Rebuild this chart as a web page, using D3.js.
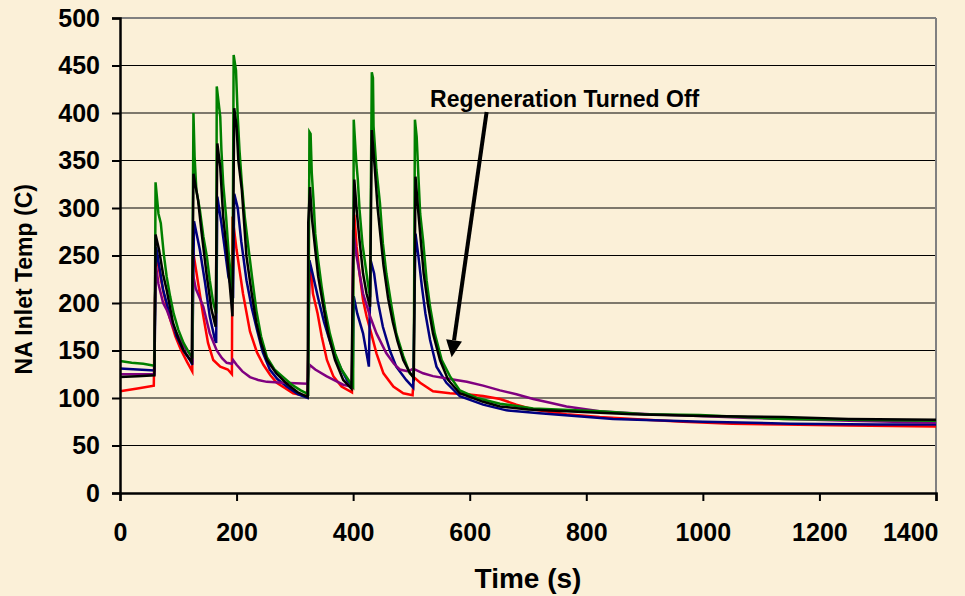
<!DOCTYPE html>
<html>
<head>
<meta charset="utf-8">
<script src="https://cdn.jsdelivr.net/npm/d3@7"></script>
<style>
html,body{margin:0;padding:0;background:#fbf0d8;}
svg{display:block;}
text{font-family:"Liberation Sans",Arial,sans-serif;font-weight:bold;fill:#000;}
</style>
</head>
<body>
<svg id="chart" width="965" height="596"></svg>
<script>
// ---- data ----
const xTicks = [0,200,400,600,800,1000,1200,1400];
const yTicks = [0,50,100,150,200,250,300,350,400,450,500];
const xTitle = "Time (s)";
const yTitle = "NA Inlet Temp (C)";
const noteText = "Regeneration Turned Off";
const notePos = [532, 406];
const arrowFrom = [629, 401];
const arrowTo = [569, 143];

const seriesNames = ["red","blue","purple","green","black"];

const red = [[0,107],[30,110],[58,113],[60,200],[62,252],[68,232],[75,210],[85,185],[95,165],[105,150],[115,138],[124,128],
[125,256],[134,221],[143,186],[151,158],[160,140],[172,133],[185,130],[192,125],
[193,291],[200,256],[211,210],[223,170],[235,148],[246,135],[258,124],[269,116],[297,105],[320,102],
[322,110],[325,235],[327,240],[331,210],[339,189],[346,165],[355,140],[366,123],[380,112],[398,106],
[400,250],[402,293],[406,259],[411,231],[417,203],[423,186],[431,168],[440,147],[452,126],[469,112],[486,105],[502,103],
[504,122],[515,116],[537,107],[566,105],[595,104],[623,102],[652,99],[680,93],[709,88],[766,83],[823,80],[880,78],[966,75],[1050,73],[1138,72],[1250,71],[1400,70]];

const blue = [[0,131],[30,130],[59,129],[62,259],[68,236],[74,214],[86,186],[97,165],[109,150],[120,140],[124,135],
[127,286],[137,256],[146,221],[154,186],[163,161],[165,158],
[167,312],[174,284],[180,256],[186,228],[192,214],[194,205],
[196,315],[202,300],[208,265],[217,224],[226,195],[235,172],[245,148],[257,130],[270,120],[286,112],[305,104],[322,100],
[325,245],[330,232],[340,205],[350,180],[360,160],[370,143],[380,130],[390,118],[399,112],
[401,207],[407,189],[417,168],[423,147],[427,133],
[430,245],[436,231],[442,203],[451,175],[463,150],[474,133],[491,119],[503,111],
[507,273],[512,249],[518,217],[524,189],[532,161],[543,133],[560,116],[583,102],[623,93],[663,87],[720,84],[846,78],[1000,75],[1150,73],[1300,72],[1400,72]];

const purple = [[0,125],[30,125],[59,125],[60,205],[62,238],[66,220],[74,200],[80,193],[91,175],[100,165],[109,155],[120,146],[124,142],
[125,231],[130,215],[137,205],[143,196],[154,168],[166,150],[175,142],[183,137],[192,136],[194,140],[200,135],[210,128],[223,122],[237,119],[252,117],[280,116],[322,115],
[325,135],[335,130],[354,123],[370,118],[383,114],[398,112],
[400,277],[406,249],[417,210],[429,186],[440,168],[457,147],[470,136],[480,130],[495,128],[503,131],
[520,126],[537,123],[566,120],[595,117],[623,113],[652,108],[680,104],[709,99],[738,95],[766,91],[823,86],[909,83],[995,81],[1081,79],[1252,76],[1400,74]];

const green = [[0,139],[20,137],[40,136],[59,134],[60,200],[61,327],[66,294],[70,284],[75,252],[80,228],[86,207],[92,189],[100,172],[109,158],[120,146],[124,144],
[125,300],[126,400],[128,354],[131,319],[137,298],[143,270],[149,249],[154,224],[160,200],[165,189],
[166,428],[172,396],[174,361],[177,326],[182,291],[186,256],[190,228],[193,200],
[195,461],[199,445],[202,396],[205,361],[209,326],[214,291],[220,260],[227,225],[234,192],[242,165],[252,143],[265,130],[280,122],[295,114],[310,108],[323,104],
[325,380],[327,378],[329,337],[332,308],[335,273],[340,245],[346,217],[352,193],[360,168],[369,147],[380,130],[392,119],[400,112],
[401,393],[405,352],[408,330],[411,298],[416,262],[421,240],[425,222],[429,206],
[432,443],[434,437],[435,386],[440,340],[446,305],[451,263],[457,231],[466,196],[474,168],[486,144],[497,126],[504,122],
[506,393],[509,375],[512,333],[515,294],[520,266],[526,224],[532,196],[540,168],[552,140],[566,123],[583,108],[612,100],[652,94],[709,89],[823,86],[900,83],[995,82],[1138,78],[1250,77],[1400,76]];

const black = [[0,122],[30,123],[59,124],[61,272],[67,256],[74,230],[80,214],[91,179],[100,163],[109,150],[123,138],
[126,336],[134,308],[140,274],[149,228],[157,193],[164,175],
[167,368],[172,343],[177,291],[183,256],[189,214],[193,186],
[196,405],[200,386],[203,350],[209,319],[217,249],[226,210],[234,179],[242,158],[252,140],[268,126],[286,115],[305,106],[322,101],
[323,285],[326,322],[329,291],[335,256],[340,228],[349,196],[357,168],[369,140],[383,119],[397,110],
[402,330],[406,298],[411,266],[417,231],[423,210],[429,196],
[432,382],[437,343],[442,300],[447,270],[452,240],[460,205],[468,180],[476,160],[486,140],[496,128],[504,121],
[507,333],[512,294],[516,266],[521,231],[529,196],[537,168],[549,140],[563,119],[583,105],[623,96],[652,91],[700,88],[766,86],[880,83],[1000,81],[1138,80],[1250,78],[1400,77]];

const seriesData = {red, blue, purple, green, black};
const seriesColors = {red:"#ff0000", blue:"#000080", purple:"#800080", green:"#008000", black:"#000000"};

// ---- layout ----
const W = 965, H = 596;
const m = {left:120, right:29, top:18, bottom:103};
const svg = d3.select("#chart");
svg.append("rect").attr("width",W).attr("height",H).attr("fill","#fbf0d8");

const x = d3.scaleLinear().domain([0,1400]).range([m.left, W-m.right]);
const y = d3.scaleLinear().domain([0,500]).range([H-m.bottom, m.top]);

// grid
svg.append("g").selectAll("line").data(yTicks.filter(d=>d>0 && d<500)).join("line")
  .attr("x1",x(0)).attr("x2",x(1400)).attr("y1",d=>y(d)).attr("y2",d=>y(d))
  .attr("stroke","#000").attr("stroke-width",1.2);
// top and right border (gray)
svg.append("line").attr("x1",x(0)).attr("x2",x(1400)).attr("y1",y(500)).attr("y2",y(500))
  .attr("stroke","#808080").attr("stroke-width",2);
svg.append("line").attr("x1",x(1400)).attr("x2",x(1400)).attr("y1",y(500)).attr("y2",y(0))
  .attr("stroke","#808080").attr("stroke-width",2);

// series
const line = d3.line().x(d=>x(d[0])).y(d=>y(d[1]));
seriesNames.forEach(n=>{
  svg.append("path").datum(seriesData[n]).attr("d",line)
    .attr("fill","none").attr("stroke",seriesColors[n]).attr("stroke-width",2.5)
    .attr("stroke-linejoin","miter");
});

// axes
const yAxis = svg.append("g").attr("transform",`translate(${x(0)},0)`)
  .call(d3.axisLeft(y).tickValues(yTicks).tickSize(8).tickPadding(12).tickFormat(d3.format("d")));
const xAxis = svg.append("g").attr("transform",`translate(0,${y(0)})`)
  .call(d3.axisBottom(x).tickValues(xTicks).tickSize(8).tickPadding(22).tickFormat(d3.format("d")));
[yAxis,xAxis].forEach(a=>{
  a.select(".domain").attr("stroke","#000").attr("stroke-width",2.5);
  a.selectAll(".tick line").attr("stroke","#000").attr("stroke-width",2);
  a.selectAll("text").style("font-size","25px").style("font-family","'Liberation Sans',Arial,sans-serif").style("font-weight","bold").attr("fill","#000");
});
xAxis.selectAll(".tick").filter(d=>d===1400).select("text").attr("text-anchor","end").attr("dx","2");

// titles
svg.append("text").attr("x",x(700)).attr("y",588).attr("text-anchor","middle")
  .style("font-size","28px").text(xTitle);
svg.append("text").attr("transform",`translate(32,${y(225)}) rotate(-90)`).attr("text-anchor","middle")
  .style("font-size","23px").text(yTitle);

// annotation
svg.append("text").attr("x",x(notePos[0])).attr("y",y(notePos[1])).style("font-size","23px").text(noteText);
const ax1 = x(arrowFrom[0]), ay1 = y(arrowFrom[1]), ax2 = x(arrowTo[0]), ay2 = y(arrowTo[1]);
const ang = Math.atan2(ay2-ay1, ax2-ax1);
const hl = 17, hw = 8;
const bx = ax2 - hl*Math.cos(ang), by = ay2 - hl*Math.sin(ang);
svg.append("line").attr("x1",ax1).attr("y1",ay1).attr("x2",bx).attr("y2",by)
  .attr("stroke","#000").attr("stroke-width",4);
svg.append("path").attr("d",`M${ax2},${ay2}L${bx+hw*Math.sin(ang)},${by-hw*Math.cos(ang)}L${bx-hw*Math.sin(ang)},${by+hw*Math.cos(ang)}Z`)
  .attr("fill","#000");
</script>
</body>
</html>
